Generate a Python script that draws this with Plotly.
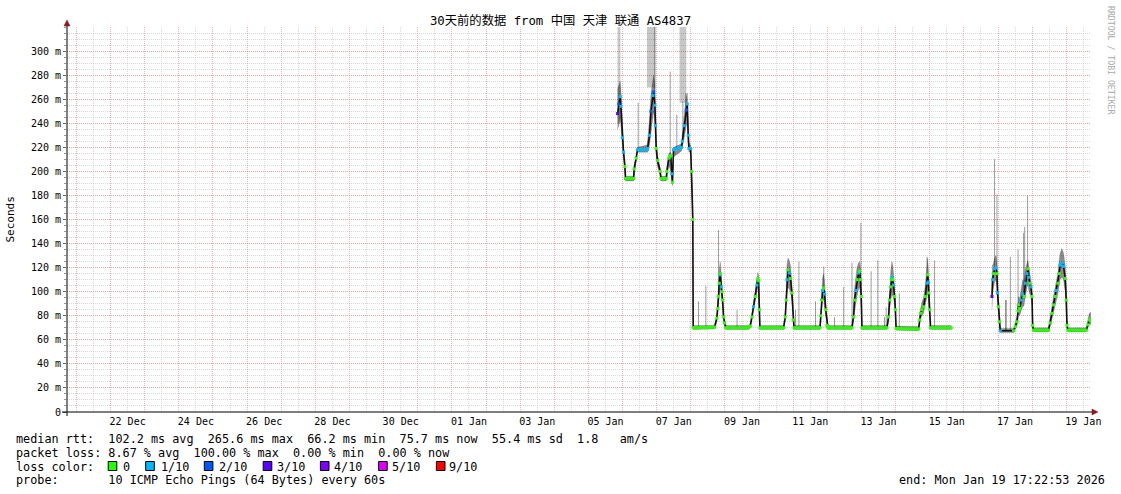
import pandas as pd
import plotly.graph_objects as go

# ---------------- data ----------------
title_text = "30天前的数据 from 中国 天津 联通 AS4837"
range_start = "2025-12-20 17:22:53"
range_end = "2026-01-19 17:22:53"

# segment A: 05 Jan -> 15 Jan (median rtt in ms, smoke band, loss in tenths)
time_a = [
    "2026-01-05 20:30", "2026-01-05 21:20", "2026-01-05 22:20", "2026-01-05 22:50", "2026-01-05 23:50",
    "2026-01-06 00:40", "2026-01-06 01:40", "2026-01-06 02:05", "2026-01-06 07:45", "2026-01-06 08:10",
    "2026-01-06 09:35", "2026-01-06 10:30", "2026-01-06 17:20", "2026-01-06 17:35", "2026-01-06 19:00",
    "2026-01-06 20:00", "2026-01-06 21:25", "2026-01-06 21:50", "2026-01-06 22:45", "2026-01-06 23:10",
    "2026-01-06 23:40", "2026-01-07 00:35", "2026-01-07 02:30", "2026-01-07 03:00", "2026-01-07 06:45",
    "2026-01-07 07:10", "2026-01-07 08:35", "2026-01-07 09:50", "2026-01-07 10:35", "2026-01-07 11:05",
    "2026-01-07 11:50", "2026-01-07 17:30", "2026-01-07 18:00", "2026-01-07 19:25", "2026-01-07 20:50",
    "2026-01-07 21:30", "2026-01-07 22:10", "2026-01-07 22:40", "2026-01-07 23:55", "2026-01-08 00:30",
    "2026-01-08 01:25", "2026-01-08 01:40", "2026-01-08 16:40", "2026-01-08 18:20", "2026-01-08 19:05",
    "2026-01-08 19:30", "2026-01-08 20:00", "2026-01-08 20:30", "2026-01-08 20:40", "2026-01-08 21:25",
    "2026-01-08 21:55", "2026-01-08 22:20", "2026-01-08 23:00", "2026-01-08 23:40", "2026-01-09 00:40",
    "2026-01-09 16:35", "2026-01-09 17:50", "2026-01-09 19:00", "2026-01-09 20:05", "2026-01-09 21:20",
    "2026-01-09 22:30", "2026-01-09 23:10", "2026-01-09 23:40", "2026-01-10 00:05", "2026-01-10 00:35",
    "2026-01-10 17:15", "2026-01-10 18:25", "2026-01-10 19:05", "2026-01-10 19:35", "2026-01-10 20:20",
    "2026-01-10 21:15", "2026-01-10 22:05", "2026-01-10 23:05", "2026-01-11 00:00", "2026-01-11 00:35",
    "2026-01-11 18:50", "2026-01-11 19:25", "2026-01-11 19:55", "2026-01-11 20:40", "2026-01-11 21:25",
    "2026-01-11 22:05", "2026-01-11 22:50", "2026-01-11 23:45", "2026-01-12 00:25", "2026-01-12 17:20",
    "2026-01-12 18:25", "2026-01-12 19:05", "2026-01-12 20:05", "2026-01-12 20:50", "2026-01-12 21:55",
    "2026-01-12 22:35", "2026-01-12 23:15", "2026-01-12 23:50", "2026-01-13 00:20", "2026-01-13 17:55",
    "2026-01-13 19:05", "2026-01-13 19:45", "2026-01-13 20:30", "2026-01-13 21:00", "2026-01-13 21:25",
    "2026-01-13 22:00", "2026-01-13 22:35", "2026-01-13 23:20", "2026-01-13 23:50", "2026-01-14 00:20",
    "2026-01-14 16:10", "2026-01-14 16:55", "2026-01-14 17:35", "2026-01-14 18:35", "2026-01-14 19:40",
    "2026-01-14 20:55", "2026-01-14 22:05", "2026-01-14 22:30", "2026-01-14 23:00", "2026-01-14 23:10",
    "2026-01-14 23:55", "2026-01-15 00:35", "2026-01-15 15:05",
]
median_a = [
    248, 256, 262, 254, 228, 216, 204, 194, 194, 202,
    211, 218, 218, 219, 230, 250, 263, 266, 255, 238,
    219, 209, 200, 194, 194, 200, 211, 213, 198, 191,
    218, 220, 225, 238, 251, 256, 230, 219, 219, 200,
    160, 70, 70.5, 78, 86, 96, 107, 114, 115, 104,
    100, 93, 79, 74, 70, 70, 71.5, 79, 87.5, 96,
    105.5, 111, 109, 85, 70, 70, 79, 93, 110, 118,
    115.5, 111, 99, 76.5, 70, 70, 80, 93, 101, 103,
    98, 85, 72, 70, 70, 79, 93, 101, 110, 115.5,
    117, 110, 96, 70, 70, 79, 93, 104, 110, 112,
    110, 105.5, 96, 85, 69.5, 69, 76.5, 82, 85, 87.5,
    96, 107, 114, 108, 99, 85, 70, 70,
]
smoke_lo_a = [
    235, 238, 245, 238, 222, 212, 200, 192, 192, 198,
    208, 216, 216, 216, 222, 232, 245, 250, 238, 225,
    212, 204, 196, 192, 192, 196, 205, 200, 190, 188,
    212, 217, 219, 228, 238, 240, 222, 216, 216, 196,
    150, 68.5, 69, 75, 82, 90, 98, 104, 105, 98,
    94, 88, 76, 71, 68.5, 68.5, 70, 76, 84, 92,
    100, 105, 98, 78, 68.5, 68.5, 76, 86, 98, 104,
    102, 100, 92, 73, 68.5, 68.5, 76, 86, 92, 94,
    90, 80, 70, 68.5, 68.5, 75, 84, 90, 96, 102,
    104, 98, 88, 68.5, 68.5, 76, 85, 92, 96, 98,
    97, 94, 88, 80, 68, 67.5, 74, 78, 80, 82,
    88, 96, 100, 98, 92, 78, 68.5, 68.5,
]
smoke_hi_a = [
    268, 272, 275, 268, 240, 222, 208, 196, 196, 205,
    214, 220, 222, 225, 245, 265, 278, 280, 272, 255,
    228, 214, 203, 196, 196, 204, 215, 216, 210, 200,
    220, 223, 232, 248, 262, 265, 242, 224, 222, 205,
    180, 72, 72, 82, 92, 104, 118, 124, 125, 115,
    108, 98, 84, 76, 72, 72, 74, 83, 92, 101,
    111, 116, 114, 95, 72, 72, 84, 102, 122, 128,
    126, 122, 108, 82, 72, 72, 86, 102, 112, 115,
    108, 92, 75, 72, 72, 86, 102, 112, 120, 124,
    125, 120, 108, 72, 72, 86, 104, 116, 122, 125,
    122, 116, 104, 92, 71.5, 71, 80, 86, 92, 95,
    106, 122, 128, 120, 112, 95, 72, 72,
]
loss_a = [
    3, 2, 1, 1, 1, 1, 0, 0, 0, 0,
    0, 1, 1, 1, 1, 2, 1, 2, 1, 1,
    0, 0, 0, 0, 0, 0, 0, 0, 1, 0,
    1, 1, 1, 1, 2, 1, 1, 1, 1, 0,
    0, 0, 0, 0, 0, 0, 0, 1, 0, 1,
    0, 0, 0, 0, 0, 0, 0, 0, 1, 0,
    1, 0, 0, 0, 0, 0, 0, 0, 1, 0,
    1, 0, 0, 0, 0, 0, 0, 0, 1, 0,
    1, 0, 0, 0, 0, 0, 0, 1, 0, 1,
    0, 0, 0, 0, 0, 0, 0, 0, 0, 1,
    0, 1, 0, 0, 0, 0, 0, 0, 0, 0,
    0, 1, 0, 1, 0, 0, 0, 0,
]

# segment B: 16 Jan -> 19 Jan
time_b = [
    "2026-01-16 19:45", "2026-01-16 20:10", "2026-01-16 20:55", "2026-01-16 21:35", "2026-01-16 22:35",
    "2026-01-16 23:15", "2026-01-16 23:40", "2026-01-17 00:25", "2026-01-17 00:55", "2026-01-17 01:35",
    "2026-01-17 11:00", "2026-01-17 12:10", "2026-01-17 13:25", "2026-01-17 14:05", "2026-01-17 14:30",
    "2026-01-17 15:10", "2026-01-17 16:25", "2026-01-17 17:20", "2026-01-17 18:10", "2026-01-17 19:10",
    "2026-01-17 20:25", "2026-01-17 21:05", "2026-01-17 21:30", "2026-01-17 22:15", "2026-01-17 23:05",
    "2026-01-17 23:55", "2026-01-18 00:20", "2026-01-18 01:00", "2026-01-18 11:30", "2026-01-18 12:45",
    "2026-01-18 13:55", "2026-01-18 15:00", "2026-01-18 16:10", "2026-01-18 16:55", "2026-01-18 18:05",
    "2026-01-18 19:00", "2026-01-18 19:40", "2026-01-18 20:55", "2026-01-18 22:05", "2026-01-18 23:15",
    "2026-01-19 00:00", "2026-01-19 00:30", "2026-01-19 01:10", "2026-01-19 14:05", "2026-01-19 15:15",
    "2026-01-19 16:10", "2026-01-19 17:15",
]
median_b = [
    96, 110, 115, 119, 120, 115, 99, 87.5, 75, 67.5,
    67.5, 71, 75, 84, 89, 86, 93, 98, 96, 107,
    115, 119, 112, 107, 104, 96, 72, 68, 68, 74,
    82, 89, 96, 101, 107, 115, 122, 124, 121, 111,
    93, 72, 68, 68, 72.5, 76.5, 76,
]
smoke_lo_b = [
    85, 98, 104, 108, 110, 104, 90, 80, 70, 66,
    66, 69, 72, 78, 82, 80, 84, 88, 88, 96,
    104, 106, 102, 98, 96, 88, 69, 66.5, 66.5, 71,
    77, 82, 88, 92, 98, 104, 110, 112, 110, 100,
    84, 69, 66.5, 66.5, 70, 73, 73,
]
smoke_hi_b = [
    110, 122, 124, 128, 130, 124, 110, 95, 82, 69.5,
    69.5, 74, 80, 90, 96, 94, 102, 110, 108, 118,
    124, 126, 122, 116, 112, 104, 78, 70, 70, 78,
    88, 96, 104, 110, 116, 126, 132, 136, 132, 122,
    104, 78, 70, 70, 76, 82, 83,
]
loss_b = [
    3, 1, 0, 1, 1, 0, 1, 0, 0, 1,
    0, 0, 0, 0, 0, 0, 1, 1, 0, 1,
    1, 0, 1, 0, 1, 0, 0, 0, 0, 0,
    0, 0, 0, 1, 0, 0, 1, 1, 1, 0,
    0, 0, 0, 0, 0, 0, 0,
]

# isolated slow pings (time, from ms, to ms)
spike_time = [
    "2026-01-06 11:00", "2026-01-06 22:40", "2026-01-07 09:30", "2026-01-07 14:10", "2026-01-07 18:25",
    "2026-01-07 20:30", "2026-01-08 05:25", "2026-01-08 10:35", "2026-01-08 19:30", "2026-01-09 08:30",
    "2026-01-11 01:35", "2026-01-11 04:00", "2026-01-11 15:40", "2026-01-11 21:30", "2026-01-12 05:05",
    "2026-01-12 11:30", "2026-01-12 17:20", "2026-01-12 23:35", "2026-01-13 06:45", "2026-01-13 11:30",
    "2026-01-13 16:10", "2026-01-13 17:20", "2026-01-14 02:35", "2026-01-14 22:05", "2026-01-15 03:25",
    "2026-01-16 21:35", "2026-01-16 23:15", "2026-01-17 05:15", "2026-01-17 05:50", "2026-01-17 08:40",
    "2026-01-17 14:05", "2026-01-17 18:00", "2026-01-17 18:45", "2026-01-17 20:50",
]
spike_from = [
    218, 255, 212, 218, 228, 245, 70, 70, 96, 70,
    70, 70, 70, 103, 70, 70, 70, 105, 70, 70,
    70, 70, 70, 107, 70, 119, 115, 67.5, 67.5, 67.5,
    84, 96, 98, 115,
]
spike_to = [
    257, 330, 283, 247, 258, 265, 92, 105, 151, 85,
    85, 125, 92, 121, 79, 104, 124, 157, 117, 126,
    79, 87, 99, 129, 126, 210, 181, 93, 93, 129,
    135, 149, 154, 180,
]

# periods with pings beyond the chart top (start, end, lowest ms)
block_start = ["2026-01-05 20:30", "2026-01-06 17:10", "2026-01-07 16:05"]
block_end = ["2026-01-05 22:30", "2026-01-06 23:10", "2026-01-07 20:50"]
block_from = [240, 270, 257]

y_tick_vals = [0, 20, 40, 60, 80, 100, 120, 140, 160, 180, 200, 220, 240, 260, 280, 300]
y_tick_text = ["0", "20 m", "40 m", "60 m", "80 m", "100 m", "120 m", "140 m", "160 m",
               "180 m", "200 m", "220 m", "240 m", "260 m", "280 m", "300 m"]
x_label_days = ["2025-12-22", "2025-12-24", "2025-12-26", "2025-12-28", "2025-12-30",
                "2026-01-01", "2026-01-03", "2026-01-05", "2026-01-07", "2026-01-09",
                "2026-01-11", "2026-01-13", "2026-01-15", "2026-01-17", "2026-01-19"]
x_label_text = ["22 Dec", "24 Dec", "26 Dec", "28 Dec", "30 Dec", "01 Jan", "03 Jan", "05 Jan",
                "07 Jan", "09 Jan", "11 Jan", "13 Jan", "15 Jan", "17 Jan", "19 Jan"]

loss_levels = [0, 1, 2, 3, 4, 5, 9]
loss_labels = ["0", "1/10", "2/10", "3/10", "4/10", "5/10", "9/10"]
loss_colors = ["#26ff00", "#00b8ff", "#0059ff", "#5e00ff", "#7e00ff", "#dd00ff", "#ff0000"]

line1 = "median rtt:  102.2 ms avg  265.6 ms max  66.2 ms min  75.7 ms now  55.4 ms sd  1.8   am/s"
line2 = "packet loss: 8.67 % avg  100.00 % max  0.00 % min  0.00 % now"
line3 = "loss color:"
line4 = "probe:       10 ICMP Echo Pings (64 Bytes) every 60s"
end_text = "end: Mon Jan 19 17:22:53 2026"
credit = "RRDTOOL / TOBI OETIKER"

# ---------------- figure ----------------
W, H = 1121, 494
ML, MR, MT, MB = 67, 30, 27, 82
PW, PH = W - ML - MR, H - MT - MB
MONO = "DejaVu Sans Mono, monospace"


def px(xp):
    return (xp - ML) / PW


def py(yp):
    return (MT + PH - yp) / PH


color_of = dict(zip(loss_levels, loss_colors))
fig = go.Figure()

# loss blocks (bars)
bs = pd.to_datetime(block_start)
be = pd.to_datetime(block_end)
fig.add_trace(go.Bar(
    x=bs + (be - bs) / 2, base=block_from, y=[400 - b for b in block_from],
    width=[(e - s).total_seconds() * 1000 for s, e in zip(bs, be)],
    marker=dict(color="rgba(0,0,0,0.22)", line=dict(width=0)), hoverinfo="skip", showlegend=False))

# spikes
fig.add_trace(go.Bar(
    x=pd.to_datetime(spike_time), base=spike_from, y=[b - a for a, b in zip(spike_from, spike_to)],
    width=2.3e6, marker=dict(color="rgba(0,0,0,0.42)", line=dict(width=0)),
    hoverinfo="skip", showlegend=False))

# smoke bands
for tt, lo, hi in [(time_a, smoke_lo_a, smoke_hi_a), (time_b, smoke_lo_b, smoke_hi_b)]:
    tx = list(pd.to_datetime(tt))
    fig.add_trace(go.Scatter(
        x=tx + tx[::-1], y=hi + lo[::-1], fill="toself", mode="lines",
        line=dict(width=0.6, color="rgba(0,0,0,0.25)"), fillcolor="rgba(0,0,0,0.45)",
        hoverinfo="skip", showlegend=False))

# median lines
for tt, med, loss in [(time_a, median_a, loss_a), (time_b, median_b, loss_b)]:
    tx = list(pd.to_datetime(tt))
    fig.add_trace(go.Scatter(x=tx, y=med, mode="lines", line=dict(color="#111111", width=1.6),
                             hoverinfo="skip", showlegend=False))
    # flat stretches coloured by loss
    for lev in loss_levels:
        xs, ys = [], []
        for i in range(len(med) - 1):
            if loss[i + 1] == lev and loss[i] == lev and abs(med[i + 1] - med[i]) < 2.5:
                xs += [tx[i], tx[i + 1], None]
                ys += [med[i], med[i + 1], None]
        if xs:
            fig.add_trace(go.Scatter(x=xs, y=ys, mode="lines", line=dict(color=color_of[lev], width=3),
                                     hoverinfo="skip", showlegend=False))
    fig.add_trace(go.Scatter(
        x=tx, y=med, mode="markers",
        marker=dict(symbol="square", size=3, color=[color_of[v] for v in loss], line=dict(width=0)),
        hoverinfo="skip", showlegend=False))

# dummy trace for the label axis
fig.add_trace(go.Scatter(x=[range_start, range_end], y=[None, None], xaxis="x2", mode="lines",
                         hoverinfo="skip", showlegend=False))

midnights = pd.date_range("2025-12-21", "2026-01-19", freq="D")
noons = [pd.Timestamp(d) + pd.Timedelta(hours=12) for d in x_label_days]

MAJ = "rgba(235,140,140,0.65)"
MIN = "rgba(185,185,185,0.55)"

fig.update_layout(
    width=W, height=H, margin=dict(l=ML, r=MR, t=MT, b=MB),
    paper_bgcolor="white", plot_bgcolor="white", barmode="overlay",
    title=dict(text=title_text, x=0.5, xref="container", xanchor="center",
               y=1 - 21 / H, yref="container", yanchor="middle",
               font=dict(family="DejaVu Sans Mono, Noto Sans CJK SC", size=12.3, color="#000")),
    xaxis=dict(type="date", range=[range_start, range_end], tickmode="array", tickvals=midnights,
               showticklabels=False, ticks="", showgrid=True, gridcolor=MAJ, griddash="1px,1px",
               gridwidth=1, zeroline=False, showline=False,
               minor=dict(tick0="2025-12-20 12:00", dtick=86400000, showgrid=True, gridcolor=MIN,
                          griddash="1px,1px", gridwidth=1, ticks="")),
    xaxis2=dict(type="date", overlaying="x", anchor="y", side="bottom", range=[range_start, range_end],
                tickmode="array", tickvals=noons, ticktext=x_label_text, showgrid=False,
                zeroline=False, showline=False, ticks="", ticklabelstandoff=2,
                tickfont=dict(family=MONO, size=10, color="#000")),
    yaxis=dict(range=[0, 320], tickmode="array", tickvals=y_tick_vals, ticktext=y_tick_text,
               showgrid=True, gridcolor=MAJ, griddash="1px,1px", gridwidth=1, zeroline=False,
               showline=False, ticks="outside", ticklen=3, tickcolor="#666",
               tickfont=dict(family=MONO, size=10, color="#000"),
               minor=dict(tick0=0, dtick=5, showgrid=True, gridcolor=MIN, griddash="1px,1px",
                          gridwidth=1, ticks="outside", ticklen=2, tickcolor="#999")),
)

shapes = []
# axes lines
shapes.append(dict(type="line", xref="paper", yref="paper", x0=px(62), x1=px(1094), y0=0, y1=0,
                   line=dict(color="#000", width=1)))
shapes.append(dict(type="line", xref="paper", yref="paper", x0=0, x1=0, y0=py(416), y1=py(24),
                   line=dict(color="#000", width=1)))
# arrows
ARROW = "#8b1a1a"
shapes.append(dict(type="path", xref="paper", yref="paper",
                   path=f"M {px(64)} {py(26)} L {px(70)} {py(26)} L {px(67)} {py(20)} Z",
                   fillcolor=ARROW, line=dict(color=ARROW, width=0.5)))
shapes.append(dict(type="path", xref="paper", yref="paper",
                   path=f"M {px(1092)} {py(409)} L {px(1092)} {py(415)} L {px(1098)} {py(412)} Z",
                   fillcolor=ARROW, line=dict(color=ARROW, width=0.5)))

annotations = []
LEG = dict(family=MONO, size=11.8, color="#000")


def note(text, xp, yp, anchor="left", **kw):
    annotations.append(dict(text=text.replace(" ", "\u00a0"), x=px(xp), y=py(yp), xref="paper",
                            yref="paper", showarrow=False, xanchor=anchor, yanchor="middle",
                            font=kw.get("font", LEG), textangle=kw.get("angle", 0),
                            borderpad=0))


note(line1, 15, 438.5)
note(line2, 15, 452.5)
note(line3, 15, 466.5)
note(line4, 15, 480.5)
note(end_text, 1106, 480.5, anchor="right")

box_left = [108.2, 145.7, 204.3, 263.2, 320.4, 378.6, 436.4]
label_left = [122.2, 159.7, 217.6, 275.8, 333.0, 390.8, 448.0]
for bl, ll, lab, col in zip(box_left, label_left, loss_labels, loss_colors):
    shapes.append(dict(type="rect", xref="paper", yref="paper", x0=px(bl), x1=px(bl + 8.6),
                       y0=py(470.5), y1=py(461.5), fillcolor=col, line=dict(color="#000", width=1)))
    note(lab, ll, 466.5)

note("Seconds", 10, 219.5, anchor="center", angle=-90, font=dict(family=MONO, size=11, color="#000"))
note(credit, 1111, 60, anchor="center", angle=90, font=dict(family=MONO, size=8.2, color="#aaaaaa"))

fig.update_layout(shapes=shapes, annotations=annotations)
fig.write_html("out.html", config={"displayModeBar": False},
               post_script="document.body.style.margin='0';")
